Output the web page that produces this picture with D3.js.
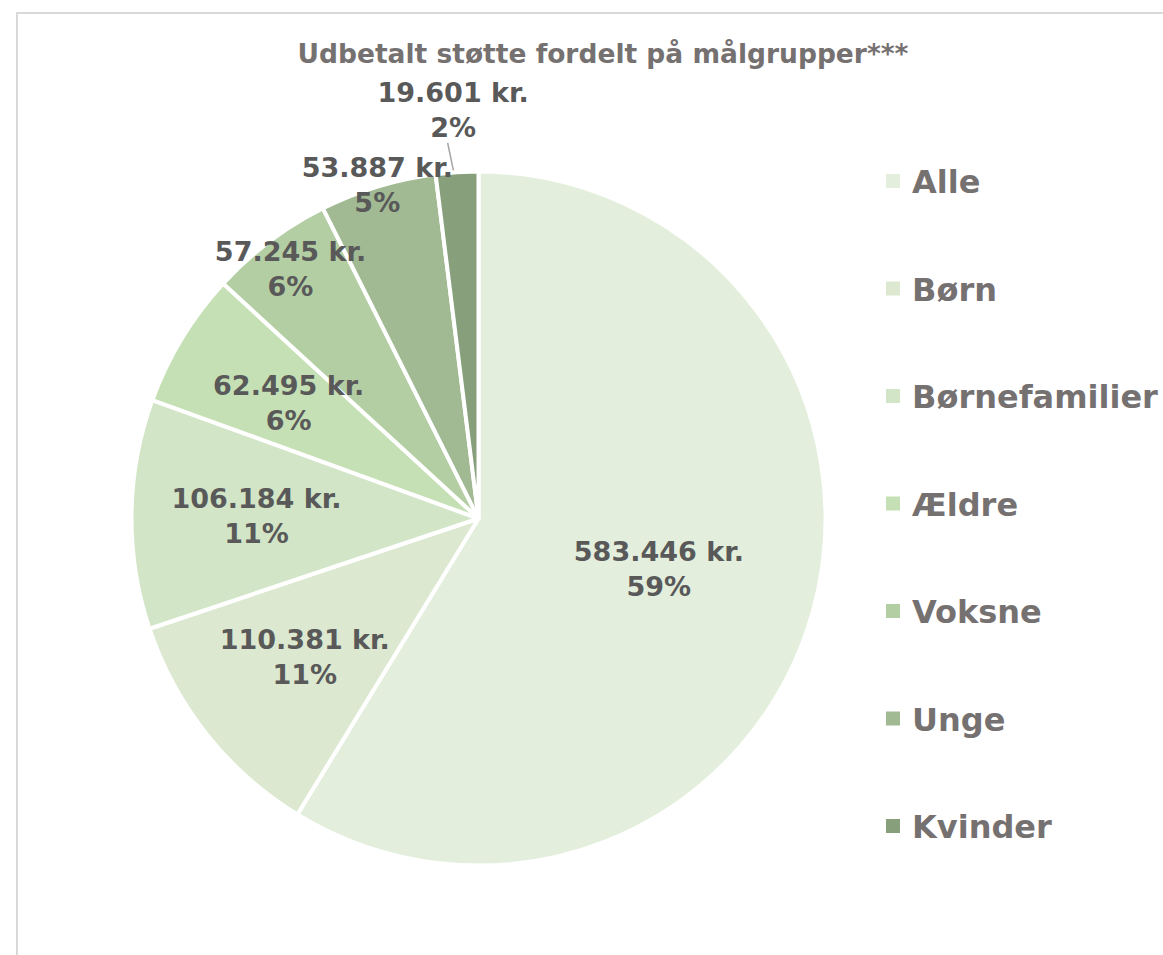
<!DOCTYPE html>
<head>
<meta charset="utf-8">
<style>
body { margin: 0; background: #fff; }
text { font-family: "DejaVu Sans", sans-serif; font-weight: bold; }
.title { fill: #767171; font-size: 26.5px; }
.lbl { fill: #595959; font-size: 27px; }
.legend text { fill: #767171; font-size: 32px; }
</style>
</head>
<body>
<svg width="1163" height="955"></svg>
<script src="https://cdn.jsdelivr.net/npm/d3@7"></script>
<script type="text/javascript">

// data
var categories = ["Alle", "Børn", "Børnefamilier", "Ældre", "Voksne", "Unge", "Kvinder"];
var amounts = [583446, 110381, 106184, 62495, 57245, 53887, 19601];
var amountLabels = ["583.446 kr.", "110.381 kr.", "106.184 kr.", "62.495 kr.", "57.245 kr.", "53.887 kr.", "19.601 kr."];
var pctLabels = ["59%", "11%", "11%", "6%", "6%", "5%", "2%"];
var colors = ["#e3efdc", "#dce9d0", "#d2e5c6", "#c5e0b4", "#b4cea4", "#a2ba93", "#889f7c"];

// where each label sits, as a fraction of the radius (excel "best fit")
var labelR = [0.54, 0.64, 0.64, 0.64, 0.9, 1.005, 1.18];

var svg = d3.select("svg"),
    width = +svg.attr("width"),
    height = +svg.attr("height");

// chart area border
svg.append("rect")
  .attr("x", 17).attr("y", 13)
  .attr("width", 1200).attr("height", 1000)
  .attr("fill", "#fff")
  .attr("stroke", "#d9d9d9")
  .attr("stroke-width", 2);

svg.append("text")
  .attr("class", "title")
  .attr("x", 603).attr("y", 63)
  .attr("text-anchor", "middle")
  .text("Udbetalt støtte fordelt på målgrupper***");

var cx = 478.5, cy = 518.5, R = 347;

var color = d3.scaleOrdinal().domain(categories).range(colors);

var pie = d3.pie().sort(null).value(function(d){ return d.value; });
var data = categories.map(function(c, i){ return {name: c, value: amounts[i], i: i}; });
var arcs = pie(data);

var arc = d3.arc().innerRadius(0).outerRadius(R);

var g = svg.append("g").attr("transform", "translate(" + cx + "," + cy + ")");

g.selectAll("path")
  .data(arcs)
  .enter().append("path")
  .attr("d", arc)
  .attr("fill", function(d){ return color(d.data.name); })
  .attr("stroke", "#fff")
  .attr("stroke-width", 4)
  .attr("stroke-linejoin", "round");

function labelPos(d){
  var a = (d.startAngle + d.endAngle) / 2;
  var r = R * labelR[d.data.i];
  return [Math.sin(a) * r, -Math.cos(a) * r];
}

// leader line for the small slice
var last = arcs[arcs.length - 1];
var la = (last.startAngle + last.endAngle) / 2;
g.append("line")
  .attr("x1", Math.sin(la - 0.01) * (R + 2)).attr("y1", -Math.cos(la - 0.01) * (R + 2))
  .attr("x2", Math.sin(la - 0.02) * (R + 30)).attr("y2", -Math.cos(la - 0.02) * (R + 30))
  .attr("stroke", "#a6a6a6")
  .attr("stroke-width", 1.5);

var lbl = g.selectAll(".lbl")
  .data(arcs)
  .enter().append("text")
  .attr("class", "lbl")
  .attr("text-anchor", "middle")
  .attr("transform", function(d){ var p = labelPos(d); return "translate(" + p[0] + "," + p[1] + ")"; });

lbl.append("tspan")
  .attr("x", 0).attr("y", -8)
  .text(function(d){ return amountLabels[d.data.i]; });
lbl.append("tspan")
  .attr("x", 0).attr("y", 27)
  .text(function(d){ return pctLabels[d.data.i]; });

// legend
var ly = d3.scalePoint().domain(categories).range([181, 826]);

var legend = svg.selectAll(".legend")
  .data(categories)
  .enter().append("g")
  .attr("class", "legend")
  .attr("transform", function(d){ return "translate(886," + ly(d) + ")"; });

legend.append("rect")
  .attr("x", 0).attr("y", -7)
  .attr("width", 14).attr("height", 14)
  .attr("fill", color);

legend.append("text")
  .attr("x", 26).attr("y", 12)
  .text(String);

</script>
</body>
